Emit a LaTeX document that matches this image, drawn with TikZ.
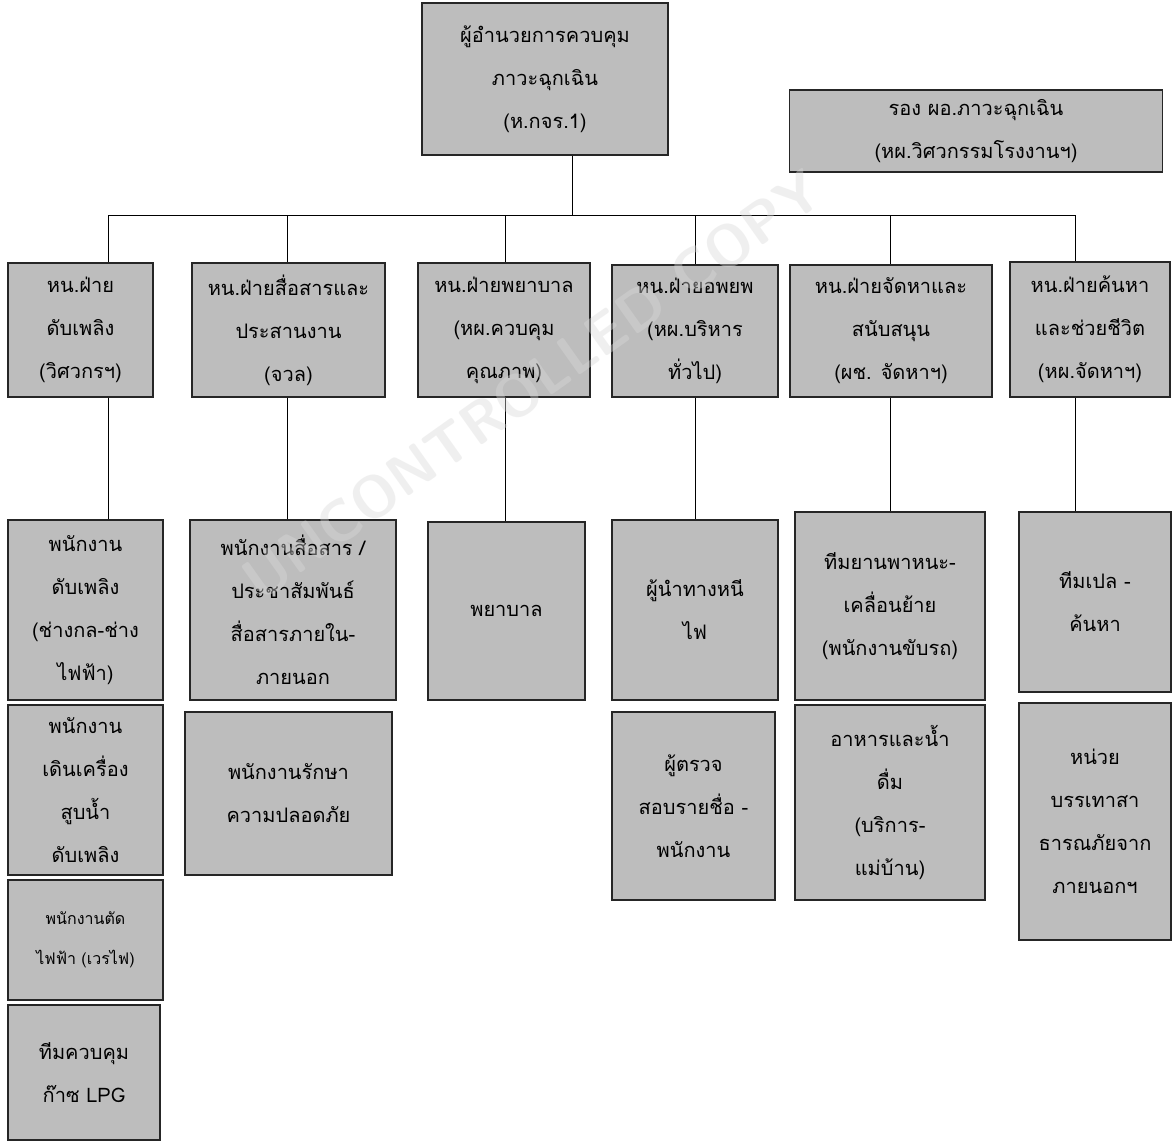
\documentclass[tikz,border=0pt]{standalone}
\usepackage{fontspec}
\newfontfamily\thai[Script=Thai]{Loma}
\begin{document}
\begin{tikzpicture}[x=1pt,y=-1pt,
  box/.style={draw=black!85, line width=1.6pt, fill=gray!52, inner sep=0pt,
    align=center, font=\thai\fontsize{20}{43}\selectfont},
  small/.style={font=\thai\fontsize{16}{40}\selectfont},
  conn/.style={draw=black, line width=0.8pt},
  wm/.style={text=gray!30, opacity=0.4, font=\sffamily\bfseries\fontsize{58}{58}\selectfont}]
\useasboundingbox[fill=white] (0,0) rectangle (1173,1143);

% top level
\node[box, minimum width=246, minimum height=152] (T) at (545,79)
  {ผู้อำนวยการควบคุม\\ภาวะฉุกเฉิน\\(ห.กจร.1)};
\node[box, minimum width=373, minimum height=82] (R) at (976,131)
  {รอง ผอ.ภาวะฉุกเฉิน\\(หผ.วิศวกรรมโรงงานฯ)};

% bus coordinates
\coordinate (j0) at (572,215);
\coordinate (xA) at (108,215);
\coordinate (xB) at (287,215);
\coordinate (xC) at (505,215);
\coordinate (xD) at (695,215);
\coordinate (xE) at (890,215);
\coordinate (xF) at (1075,215);

% row 1
\node[box, minimum width=145, minimum height=134] (A) at (80.5,330)
  {หน.ฝ่าย\\ดับเพลิง\\(วิศวกรฯ)};
\node[box, minimum width=193, minimum height=134] (B) at (288.5,330)
  {หน.ฝ่ายสื่อสารและ\\ประสานงาน\\(จวล)};
\node[box, minimum width=172, minimum height=134] (C) at (504,330)
  {หน.ฝ่ายพยาบาล\\(หผ.ควบคุม\\คุณภาพ)};
\node[box, minimum width=166, minimum height=132] (D) at (695,331)
  {หน.ฝ่ายอพยพ\\(หผ.บริหาร\\ทั่วไป)};
\node[box, minimum width=202, minimum height=132] (E) at (891,331)
  {หน.ฝ่ายจัดหาและ\\สนับสนุน\\(ผช. จัดหาฯ)};
\node[box, minimum width=160, minimum height=135] (F) at (1090,329.5)
  {หน.ฝ่ายค้นหา\\และช่วยชีวิต\\(หผ.จัดหาฯ)};

% row 2
\node[box, minimum width=155, minimum height=180] (A1) at (85.5,610)
  {พนักงาน\\ดับเพลิง\\(ช่างกล-ช่าง\\ไฟฟ้า)};
\node[box, minimum width=206, minimum height=180] (B1) at (293,610)
  {พนักงานสื่อสาร /\\ประชาสัมพันธ์\\สื่อสารภายใน-\\ภายนอก};
\node[box, minimum width=157, minimum height=178] (C1) at (506.5,611)
  {พยาบาล};
\node[box, minimum width=166, minimum height=180] (D1) at (695,610)
  {ผู้นำทางหนี\\ไฟ};
\node[box, minimum width=190, minimum height=188] (E1) at (890,606)
  {ทีมยานพาหนะ-\\เคลื่อนย้าย\\(พนักงานขับรถ)};
\node[box, minimum width=152, minimum height=180] (F1) at (1095,602)
  {ทีมเปล -\\ค้นหา};

% row 3
\node[box, minimum width=155, minimum height=170] (A2) at (85.5,790)
  {พนักงาน\\เดินเครื่อง\\สูบน้ำ\\ดับเพลิง};
\node[box, minimum width=207, minimum height=163] (B2) at (288.5,793.5)
  {พนักงานรักษา\\ความปลอดภัย};
\node[box, minimum width=163, minimum height=188] (D2) at (693.5,806)
  {ผู้ตรวจ\\สอบรายชื่อ -\\พนักงาน};
\node[box, minimum width=190, minimum height=195] (E2) at (890,802.5)
  {อาหารและน้ำ\\ดื่ม\\(บริการ-\\แม่บ้าน)};
\node[box, minimum width=152, minimum height=237] (F2) at (1095,821.5)
  {หน่วย\\บรรเทาสา\\ธารณภัยจาก\\ภายนอกฯ};

% rows 4-5 (left column)
\node[box, small, minimum width=155, minimum height=120] (A3) at (85.5,940)
  {พนักงานตัด\\ไฟฟ้า (เวรไฟ)};
\node[box, minimum width=152, minimum height=135] (A4) at (84,1072.5)
  {ทีมควบคุม\\ก๊าซ LPG};

% connectors
\draw[conn] (j0 |- T.south) -- (j0);
\draw[conn] (xA) -- (xF);
\draw[conn] (xA) -- (xA |- A.north);
\draw[conn] (xB) -- (xB |- B.north);
\draw[conn] (xC) -- (xC |- C.north);
\draw[conn] (xD) -- (xD |- D.north);
\draw[conn] (xE) -- (xE |- E.north);
\draw[conn] (xF) -- (xF |- F.north);
\draw[conn] (xA |- A.south) -- (xA |- A1.north);
\draw[conn] (xB |- B.south) -- (xB |- B1.north);
\draw[conn] (xC |- C.south) -- (xC |- C1.north);
\draw[conn] (xD |- D.south) -- (xD |- D1.north);
\draw[conn] (xE |- E.south) -- (xE |- E1.north);
\draw[conn] (xF |- F.south) -- (xF |- F1.north);

% watermark
\node[wm, rotate=35.4] (W) at (532,385) {UNCONTROLLED COPY};
\end{tikzpicture}
\end{document}
